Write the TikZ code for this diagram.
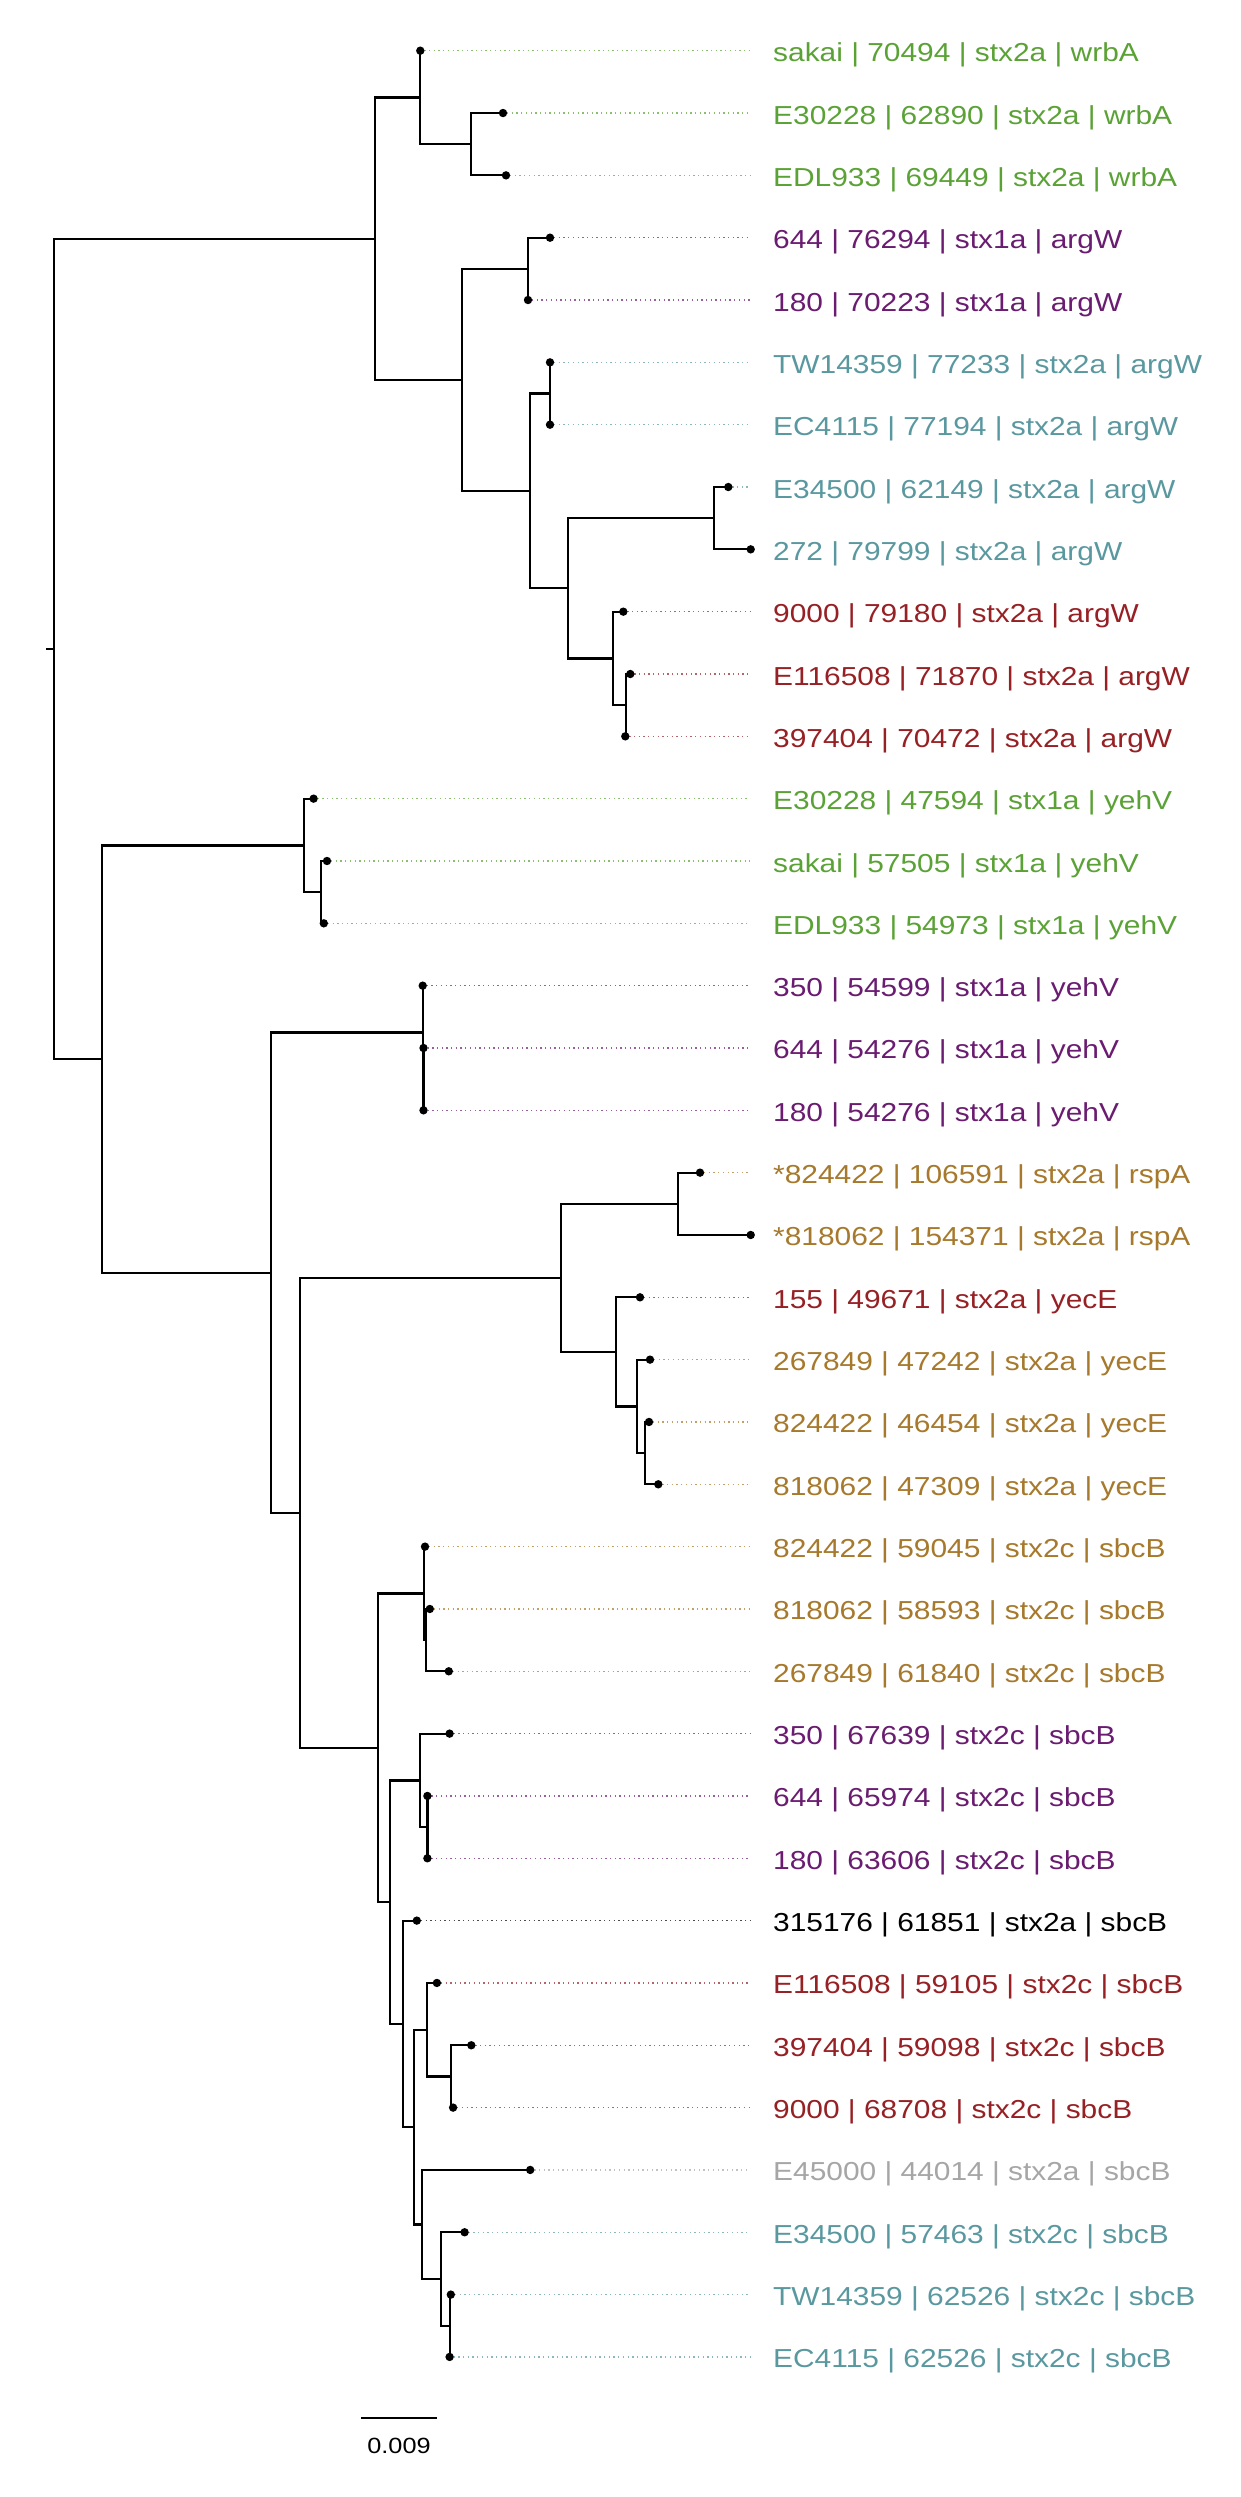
\documentclass[tikz,border=0pt]{standalone}
\usepackage{fontspec}
\setmainfont{Liberation Sans}[FakeStretch=1.15]
\definecolor{cgreen}{RGB}{91,162,54}
\definecolor{cpurple}{RGB}{106,28,112}
\definecolor{cteal}{RGB}{90,152,160}
\definecolor{cred}{RGB}{150,32,36}
\definecolor{cbrown}{RGB}{166,121,44}
\definecolor{cgray}{RGB}{166,166,166}
\definecolor{cblack}{RGB}{0,0,0}
\begin{document}
\begin{tikzpicture}[x=1pt,y=-1pt,
  branch/.style={line width=2.2pt, black, line cap=rect},
  leader/.style={line width=1.3pt, dash pattern=on 1.3pt off 3.4pt, shorten >=23pt, shorten <=4pt},
  lab/.style={anchor=west, inner sep=0pt, text height=22pt, text depth=0pt, font=\fontsize{26pt}{30pt}\selectfont},
  scalelab/.style={inner sep=0pt, text height=16pt, text depth=0pt, font=\fontsize{22pt}{26pt}\selectfont}]
\useasboundingbox[fill=white] (0,0) rectangle (1240,2497);
% tips
\foreach \i/\x in {1/420.3,2/503,3/506,4/550,5/528,6/550,7/550,8/728.3,9/750.7,10/623.3,
  11/630.3,12/625.3,13/313.6,14/327,15/323.8,16/422.7,17/423.5,18/423.5,19/700,20/750.7,
  21/640,22/650,23/649,24/658.3,25/425,26/429.8,27/448.8,28/449.6,29/427.4,30/427.4,
  31/416.8,32/436.9,33/471.3,34/453.1,35/530.2,36/464.6,37/450.8,38/449.6}
  {\coordinate (t\i) at (\x,{50.7+(\i-1)*62.33});}
% internal nodes
\coordinate (root) at (54,648.85);
\coordinate (rs) at (46.7,648.85);
\coordinate (A) at (375,238.7);
\coordinate (B) at (420.3,97.45);
\coordinate (C) at (471.3,144.2);
\coordinate (D) at (462.2,379.9);
\coordinate (E) at (528,268.85);
\coordinate (F) at (530,490.9);
\coordinate (G) at (550,393.55);
\coordinate (H) at (568.3,588.3);
\coordinate (H1) at (714.3,518.15);
\coordinate (I) at (613.3,658.4);
\coordinate (I2) at (626,705.15);
\coordinate (L) at (102,1059.0);
\coordinate (J) at (303.7,845.4);
\coordinate (K) at (321,892.15);
\coordinate (M) at (270.9,1272.6);
\coordinate (N) at (422.7,1032.4);
\coordinate (N2) at (423.5,1079.15);
\coordinate (O) at (300.1,1512.8);
\coordinate (P) at (561.3,1277.8);
\coordinate (P1) at (678.3,1203.8);
\coordinate (Q) at (616,1351.85);
\coordinate (Q2) at (636.7,1406.4);
\coordinate (Q3) at (645,1453.15);
\coordinate (R) at (377.6,1747.75);
\coordinate (S) at (424.3,1593.4);
\coordinate (S2) at (425.9,1640.15);
\coordinate (T) at (390.3,1902.1);
\coordinate (U) at (420.3,1780.4);
\coordinate (U2) at (427.4,1827.15);
\coordinate (V) at (402.9,2023.85);
\coordinate (W) at (413.6,2127.1);
\coordinate (X) at (427,2029.7);
\coordinate (Y) at (450.8,2076.45);
\coordinate (Z) at (422.3,2224.45);
\coordinate (AA) at (441.3,2279.0);
\coordinate (AB) at (449.6,2325.75);
% labels
\foreach \i/\c/\t in {
 1/cgreen/{sakai | 70494 | stx2a | wrbA},
 2/cgreen/{E30228 | 62890 | stx2a | wrbA},
 3/cgreen/{EDL933 | 69449 | stx2a | wrbA},
 4/cpurple/{644 | 76294 | stx1a | argW},
 5/cpurple/{180 | 70223 | stx1a | argW},
 6/cteal/{TW14359 | 77233 | stx2a | argW},
 7/cteal/{EC4115 | 77194 | stx2a | argW},
 8/cteal/{E34500 | 62149 | stx2a | argW},
 9/cteal/{272 | 79799 | stx2a | argW},
 10/cred/{9000 | 79180 | stx2a | argW},
 11/cred/{E116508 | 71870 | stx2a | argW},
 12/cred/{397404 | 70472 | stx2a | argW},
 13/cgreen/{E30228 | 47594 | stx1a | yehV},
 14/cgreen/{sakai | 57505 | stx1a | yehV},
 15/cgreen/{EDL933 | 54973 | stx1a | yehV},
 16/cpurple/{350 | 54599 | stx1a | yehV},
 17/cpurple/{644 | 54276 | stx1a | yehV},
 18/cpurple/{180 | 54276 | stx1a | yehV},
 19/cbrown/{*824422 | 106591 | stx2a | rspA},
 20/cbrown/{*818062 | 154371 | stx2a | rspA},
 21/cred/{155 | 49671 | stx2a | yecE},
 22/cbrown/{267849 | 47242 | stx2a | yecE},
 23/cbrown/{824422 | 46454 | stx2a | yecE},
 24/cbrown/{818062 | 47309 | stx2a | yecE},
 25/cbrown/{824422 | 59045 | stx2c | sbcB},
 26/cbrown/{818062 | 58593 | stx2c | sbcB},
 27/cbrown/{267849 | 61840 | stx2c | sbcB},
 28/cpurple/{350 | 67639 | stx2c | sbcB},
 29/cpurple/{644 | 65974 | stx2c | sbcB},
 30/cpurple/{180 | 63606 | stx2c | sbcB},
 31/cblack/{315176 | 61851 | stx2a | sbcB},
 32/cred/{E116508 | 59105 | stx2c | sbcB},
 33/cred/{397404 | 59098 | stx2c | sbcB},
 34/cred/{9000 | 68708 | stx2c | sbcB},
 35/cgray/{E45000 | 44014 | stx2a | sbcB},
 36/cteal/{E34500 | 57463 | stx2c | sbcB},
 37/cteal/{TW14359 | 62526 | stx2c | sbcB},
 38/cteal/{EC4115 | 62526 | stx2c | sbcB}}
 {\node[lab, text=\c] (l\i) at (773,{50.7+(\i-1)*62.33}) {\t};}
% leaders
\foreach \i/\c in {1/cgreen,2/cgreen,3/cgreen,4/cpurple,5/cpurple,6/cteal,7/cteal,8/cteal,
 10/cred,11/cred,12/cred,13/cgreen,14/cgreen,15/cgreen,16/cpurple,17/cpurple,18/cpurple,
 19/cbrown,21/cred,22/cbrown,23/cbrown,24/cbrown,25/cbrown,26/cbrown,27/cbrown,
 28/cpurple,29/cpurple,30/cpurple,31/cblack,32/cred,33/cred,34/cred,35/cgray,
 36/cteal,37/cteal,38/cteal}
 {\draw[leader, draw=\c!70!white] (t\i) -- (l\i.west);}
% branches
\draw[branch] (root) -- (rs);
\foreach \p/\c in {root/A, root/L,
 A/B, A/D, B/t1, B/C, C/t2, C/t3, D/E, D/F, E/t4, E/t5, F/G, F/H, G/t6, G/t7,
 H/H1, H/I, H1/t8, H1/t9, I/t10, I/I2, I2/t11, I2/t12,
 L/J, L/M, J/t13, J/K, K/t14, K/t15, M/N, M/O, N/t16, N/N2, N2/t17, N2/t18,
 O/P, O/R, P/P1, P/Q, P1/t19, P1/t20, Q/t21, Q/Q2, Q2/t22, Q2/Q3, Q3/t23, Q3/t24,
 R/S, R/T, S/t25, S/S2, S2/t26, S2/t27, T/U, T/V, U/t28, U/U2, U2/t29, U2/t30,
 V/t31, V/W, W/X, W/Z, X/t32, X/Y, Y/t33, Y/t34, Z/t35, Z/AA, AA/t36, AA/AB,
 AB/t37, AB/t38}
 {\draw[branch] (\p) |- (\c);}
% tip dots
\foreach \i in {1,...,38} {\fill (t\i) circle (4.2pt);}
% scale bar
\coordinate (sb1) at (361,2418.3);
\coordinate (sb2) at (437,2418.3);
\draw[line width=2pt] (sb1) -- (sb2);
\node[scalelab] (sbl) at (399,2445) {0.009};
\end{tikzpicture}
\end{document}
